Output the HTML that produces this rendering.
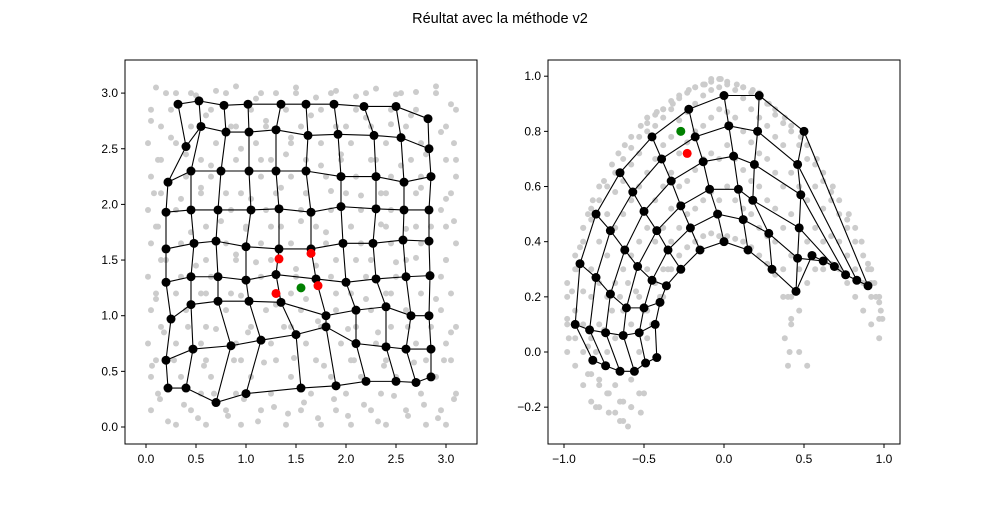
<!DOCTYPE html>
<html><head><meta charset="utf-8"><style>
body{margin:0;background:#fff;}
svg text{font-family:"Liberation Sans",sans-serif;}
</style></head><body>
<svg id="fig" width="1000" height="500" xmlns="http://www.w3.org/2000/svg">
<rect width="1000" height="500" fill="#fff"/>
<text x="500" y="23" text-anchor="middle" font-size="14.5">Réultat avec la méthode v2</text>
<g id="left"></g>
<g id="right"></g>
</svg>
<script>
// ---- left chart data ----
const leftXTicks=[0,0.5,1,1.5,2,2.5,3];
const leftXTickLabels=["0.0","0.5","1.0","1.5","2.0","2.5","3.0"];
const leftYTicks=[0,0.5,1,1.5,2,2.5,3];
const leftYTickLabels=["0.0","0.5","1.0","1.5","2.0","2.5","3.0"];
const leftGrayX=[0.1,0.3,0.5,0.7,0.9,1.1,1.3,1.5,1.7,1.9,2.1,2.3,2.5,2.7,2.9,3.05,0.05,0.25,0.6,0.85,1.2,1.45,1.65,2.0,2.2,2.45,2.65,2.95,0.15,0.4,0.65,0.95,1.15,1.4,1.75,1.95,2.25,2.55,2.8,3.1,0.08,0.35,0.55,0.8,1.05,1.35,1.6,1.85,2.15,2.4,2.75,3.0,0.12,0.45,0.75,1.0,1.25,1.55,1.8,2.05,2.35,2.6,2.85,3.08,0.2,0.5,0.9,1.1,1.5,1.7,2.1,2.5,2.7,3.0,0.1,0.3,0.6,0.95,1.3,1.6,1.9,2.2,2.45,2.9,0.18,0.42,0.7,1.02,1.38,1.72,2.02,2.32,2.62,3.05,0.06,0.28,0.58,0.88,1.18,1.48,1.78,2.08,2.38,2.68,2.98,0.14,0.38,0.68,0.98,1.28,1.58,1.88,2.18,2.48,2.78,3.08,0.22,0.52,0.82,1.12,1.42,1.72,2.02,2.32,2.62,2.92];
const leftGrayY=[3.05,3.0,2.98,3.02,3.06,2.95,3.0,3.05,2.96,3.02,2.97,3.04,2.99,3.01,3.06,2.9,2.75,2.6,2.8,2.7,2.75,2.6,2.8,2.7,2.78,2.72,2.8,2.65,2.4,2.45,2.35,2.5,2.4,2.45,2.35,2.45,2.4,2.35,2.45,2.4,2.1,2.05,2.15,2.1,2.05,2.15,2.1,2.12,2.08,2.1,2.15,2.05,1.8,1.75,1.85,1.78,1.8,1.85,1.75,1.8,1.82,1.78,1.8,1.85,1.5,1.45,1.55,1.48,1.42,1.45,1.5,1.48,1.52,1.5,1.15,1.2,1.2,1.18,1.1,1.15,1.2,1.15,1.2,1.15,0.85,0.9,0.88,0.85,0.9,0.95,0.88,0.85,0.9,0.85,0.55,0.6,0.55,0.6,0.58,0.62,0.55,0.6,0.55,0.58,0.6,0.25,0.2,0.3,0.25,0.18,0.22,0.25,0.2,0.28,0.2,0.25,0.05,0.08,0.1,0.05,0.12,0.08,0.1,0.05,0.1,0.08];
const leftGrayRowY=[0.02,0.15,0.3,0.45,0.6,0.75,0.9,1.05,1.2,1.35,1.5,1.65,1.8,1.95,2.1,2.25,2.4,2.55,2.7,2.85,3.0];
const leftGrayRowX=[
[0.3,0.6,0.95,1.4,1.75,2.05,2.4,2.8,3.0],
[0.05,0.45,0.8,1.15,1.55,1.9,2.25,2.6,2.95],
[0.12,0.55,0.9,1.25,1.65,2.0,2.35,2.75,3.1],
[0.05,0.35,0.65,1.05,1.45,1.85,2.15,2.5,2.9],
[0.1,0.6,0.95,1.3,1.7,2.05,2.4,2.8,3.05],
[0.02,0.3,0.55,0.9,1.25,1.6,1.95,2.3,2.7,3.0],
[0.15,0.6,1.05,1.45,1.75,2.1,2.45,2.85,3.1],
[0.05,0.4,0.8,1.2,1.55,1.9,2.25,2.6,2.95],
[0.1,0.55,0.85,1.45,2.05,2.4,2.75,3.05],
[0.02,0.35,0.65,1.15,1.5,1.85,2.2,2.5,2.95],
[0.15,0.6,0.9,1.25,1.9,2.25,2.6,3.0],
[0.05,0.35,0.8,1.15,1.45,1.8,2.15,2.45,2.75,3.1],
[0.1,0.6,1.0,1.35,1.7,2.05,2.4,2.7,3.0],
[0.02,0.3,0.85,1.2,1.55,1.85,2.15,2.45,2.95],
[0.15,0.55,0.95,1.3,1.6,2.0,2.35,2.7,3.05],
[0.05,0.4,0.65,1.15,1.45,1.8,2.1,2.45,2.75,3.1],
[0.12,0.55,0.9,1.25,1.6,1.95,2.3,2.65,3.0],
[0.02,0.3,0.7,1.1,1.45,1.75,2.05,2.4,2.75,3.08],
[0.15,0.45,0.9,1.2,1.55,1.9,2.25,2.6,3.0],
[0.05,0.25,0.65,1.05,1.4,1.75,2.1,2.45,2.7,3.1],
[0.2,0.45,0.8,1.15,1.5,1.85,2.2,2.55,2.9]];
const leftNodeX=[
[0.32,0.53,0.78,1.02,1.35,1.6,1.88,2.18,2.5,2.82],
[0.4,0.55,0.8,1.03,1.3,1.62,1.92,2.28,2.55,2.83],
[0.22,0.45,0.75,1.03,1.3,1.6,1.95,2.3,2.58,2.85],
[0.2,0.45,0.72,1.05,1.33,1.65,1.95,2.3,2.58,2.83],
[0.2,0.48,0.7,1.0,1.33,1.65,1.97,2.27,2.57,2.83],
[0.2,0.45,0.72,1.0,1.3,1.7,2.0,2.3,2.6,2.84],
[0.25,0.45,0.72,1.03,1.35,1.8,2.1,2.4,2.65,2.83],
[0.2,0.47,0.85,1.15,1.5,1.8,2.1,2.4,2.6,2.85],
[0.22,0.4,0.7,1.0,1.55,1.9,2.2,2.5,2.7,2.85]];
const leftNodeY=[
[2.9,2.93,2.89,2.9,2.9,2.9,2.9,2.88,2.88,2.77],
[2.52,2.7,2.65,2.65,2.67,2.62,2.63,2.62,2.6,2.5],
[2.2,2.3,2.3,2.3,2.3,2.3,2.25,2.25,2.2,2.25],
[1.93,1.95,1.95,1.95,1.96,1.93,1.98,1.96,1.95,1.95],
[1.6,1.65,1.67,1.62,1.6,1.6,1.65,1.65,1.68,1.67],
[1.3,1.35,1.35,1.32,1.37,1.33,1.3,1.33,1.35,1.36],
[0.97,1.1,1.13,1.13,1.12,1.0,1.05,1.08,1.0,1.0],
[0.6,0.7,0.73,0.78,0.83,0.9,0.75,0.72,0.7,0.7],
[0.35,0.35,0.22,0.3,0.35,0.37,0.41,0.41,0.4,0.45]];
const leftRedX=[1.33,1.65,1.3,1.72];
const leftRedY=[1.51,1.56,1.2,1.27];
const leftGreenX=[1.55];
const leftGreenY=[1.25];
// ---- right chart data ----
const rightXTicks=[-1,-0.5,0,0.5,1];
const rightXTickLabels=["−1.0","−0.5","0.0","0.5","1.0"];
const rightYTicks=[-0.2,0,0.2,0.4,0.6,0.8,1.0];
const rightYTickLabels=["−0.2","0.0","0.2","0.4","0.6","0.8","1.0"];
const rightGrayX=[-0.98,-0.95,-0.92,-0.97,-0.9,-0.88,-0.85,-0.82,-0.78,-0.75,-0.7,-0.66,-0.62,-0.58,-0.52,-0.48,-0.42,-0.38,-0.32,-0.28,-0.22,-0.18,-0.12,-0.08,-0.02,0.02,0.08,0.12,0.18,0.22,0.28,0.32,0.38,0.42,0.48,0.52,0.58,0.62,0.68,0.72,0.78,0.82,0.86,0.9,0.94,0.97,0.99,-0.85,-0.8,-0.75,-0.7,-0.65,-0.6,-0.55,-0.5,-0.45,-0.4,-0.35,-0.85,-0.78,-0.72,-0.65,-0.58,-0.5,-0.8,-0.72,-0.65,-0.6,-0.52,0.4,0.42,0.38,0.41,0.4,0.9,0.95,0.98,0.92];
const rightGrayY=[0.12,0.22,0.3,0.05,0.38,0.45,0.5,0.55,0.6,0.62,0.68,0.72,0.75,0.78,0.82,0.85,0.87,0.88,0.9,0.93,0.95,0.96,0.97,0.98,0.99,0.98,0.97,0.96,0.95,0.94,0.9,0.88,0.85,0.82,0.78,0.75,0.7,0.65,0.6,0.55,0.5,0.45,0.4,0.32,0.25,0.18,0.12,0.02,0.0,0.08,0.15,0.2,0.25,0.22,0.15,0.1,0.2,0.3,-0.08,-0.12,-0.15,-0.18,-0.2,-0.15,-0.2,-0.22,-0.25,-0.27,-0.22,0.2,0.12,0.05,0.0,-0.05,0.3,0.2,0.15,0.25];
const rightGrayColX=[-0.98,-0.93,-0.88,-0.83,-0.78,-0.73,-0.68,-0.63,-0.58,-0.53,-0.48,-0.43,-0.38,-0.33,-0.28,-0.23,-0.18,-0.13,-0.08,-0.03,0.02,0.07,0.12,0.17,0.22,0.27,0.32,0.37,0.42,0.47,0.52,0.57,0.62,0.67,0.72,0.77,0.82,0.87,0.92,0.97];
const rightGrayColY=[
[0.0,0.1,0.2,0.25],
[-0.05,0.05,0.15,0.3,0.35],
[-0.12,0.0,0.1,0.22,0.4,0.45],
[-0.18,-0.08,0.05,0.2,0.3,0.48,0.52],
[-0.2,-0.1,0.1,0.25,0.4,0.55],
[-0.15,0.0,0.2,0.35,0.5,0.6],
[-0.22,-0.12,0.05,0.25,0.45,0.58,0.65],
[-0.25,-0.18,0.15,0.3,0.5,0.62,0.7],
[-0.2,-0.1,0.1,0.35,0.55,0.68,0.74],
[-0.15,0.0,0.2,0.4,0.6,0.72,0.78],
[0.05,0.15,0.3,0.45,0.65,0.8,0.83],
[0.1,0.25,0.4,0.55,0.7,0.82,0.86],
[0.2,0.3,0.45,0.6,0.75,0.85,0.88],
[0.3,0.4,0.52,0.65,0.78,0.88,0.91],
[0.35,0.45,0.6,0.72,0.84,0.92],
[0.38,0.5,0.62,0.76,0.87,0.94],
[0.4,0.52,0.66,0.8,0.9,0.96],
[0.42,0.55,0.7,0.82,0.93,0.97],
[0.43,0.58,0.72,0.85,0.95,0.99],
[0.42,0.55,0.7,0.88,0.96,0.99],
[0.42,0.6,0.75,0.87,0.97],
[0.41,0.55,0.7,0.85,0.95],
[0.4,0.52,0.66,0.8,0.92,0.96],
[0.38,0.5,0.62,0.76,0.88,0.94],
[0.35,0.45,0.6,0.72,0.85,0.92],
[0.32,0.42,0.55,0.7,0.82,0.9],
[0.28,0.4,0.52,0.65,0.78,0.86],
[0.2,0.3,0.45,0.6,0.75,0.83],
[0.1,0.2,0.35,0.5,0.65,0.8],
[0.0,0.15,0.3,0.45,0.6,0.75],
[-0.05,0.25,0.4,0.55,0.7],
[0.3,0.45,0.6,0.68],
[0.3,0.4,0.52,0.62],
[0.32,0.42,0.55,0.58],
[0.3,0.4,0.5],
[0.25,0.35,0.45,0.48],
[0.2,0.3,0.4],
[0.15,0.25,0.35],
[0.1,0.2,0.3],
[0.05,0.12,0.2]];
const rightNodeX=[
[-0.82,-0.93,-0.9,-0.8,-0.65,-0.45,-0.22,0.0,0.22,0.5,0.9],
[-0.74,-0.84,-0.8,-0.71,-0.57,-0.39,-0.18,0.03,0.21,0.46,0.83],
[-0.65,-0.74,-0.71,-0.62,-0.5,-0.33,-0.13,0.06,0.19,0.48,0.76],
[-0.56,-0.63,-0.61,-0.54,-0.42,-0.27,-0.09,0.09,0.18,0.47,0.69],
[-0.49,-0.53,-0.5,-0.45,-0.35,-0.21,-0.04,0.12,0.28,0.46,0.62],
[-0.42,-0.43,-0.4,-0.36,-0.27,-0.15,0.0,0.15,0.3,0.45,0.55]];
const rightNodeY=[
[-0.03,0.1,0.32,0.5,0.65,0.78,0.88,0.93,0.93,0.8,0.24],
[-0.05,0.08,0.27,0.44,0.58,0.7,0.78,0.82,0.8,0.68,0.26],
[-0.07,0.07,0.21,0.37,0.51,0.62,0.69,0.71,0.68,0.57,0.28],
[-0.07,0.06,0.16,0.31,0.44,0.53,0.59,0.59,0.55,0.45,0.31],
[-0.04,0.07,0.16,0.26,0.37,0.45,0.5,0.48,0.43,0.34,0.33],
[-0.02,0.1,0.18,0.24,0.3,0.37,0.4,0.37,0.3,0.22,0.35]];
const rightRedX=[-0.23];
const rightRedY=[0.72];
const rightGreenX=[-0.27];
const rightGreenY=[0.8];

const NS="http://www.w3.org/2000/svg";
function mk(tag,attrs,parent){const e=document.createElementNS(NS,tag);for(const k in attrs)e.setAttribute(k,attrs[k]);parent.appendChild(e);return e;}
function gray(g,x,y){
  const c=mk('circle',{cx:x,cy:y,r:3,fill:'#cccccc'},g);
  
  
}
function drawChart(g,box,sx,sy,xt,xl,yt,yl,gx,gy,nx,ny,rx,ry,grx,gry){
  for(let i=0;i<gx.length;i++) gray(g,sx(gx[i]),sy(gy[i]));
  return function(){
  for(let r=0;r<nx.length;r++){
    const pts=nx[r].map((v,j)=>sx(v)+','+sy(ny[r][j])).join(' ');
    const p=mk('polyline',{points:pts,fill:'none',stroke:'#000','stroke-width':1.1},g);
    
    
  }
  for(let c=0;c<nx[0].length;c++){
    const pts=nx.map((row,r)=>sx(row[c])+','+sy(ny[r][c])).join(' ');
    const p=mk('polyline',{points:pts,fill:'none',stroke:'#000','stroke-width':1.1},g);
    
    
  }
  for(let r=0;r<nx.length;r++)for(let c=0;c<nx[r].length;c++){
    const n=mk('circle',{cx:sx(nx[r][c]),cy:sy(ny[r][c]),r:4.5,fill:'#000'},g);
    
    
  }
  for(let i=0;i<rx.length;i++){
    const n=mk('circle',{cx:sx(rx[i]),cy:sy(ry[i]),r:4.5,fill:'#ff0000'},g);
    
    
  }
  for(let i=0;i<grx.length;i++){
    const n=mk('circle',{cx:sx(grx[i]),cy:sy(gry[i]),r:4.5,fill:'#008000'},g);
    
    
  }
  const fr=mk('rect',{x:box.x0,y:box.y0,width:box.x1-box.x0,height:box.y1-box.y0,fill:'none',stroke:'#000','stroke-width':1},g);
  
  
  xt.forEach((v,i)=>{
    const x=sx(v);
    const t=mk('line',{x1:x,x2:x,y1:box.y1,y2:box.y1+4,stroke:'#000'},g);
    
    
    const l=mk('text',{x:x,y:box.y1+19,'text-anchor':'middle','font-size':12},g);
    l.textContent=xl[i];
    
    
  });
  yt.forEach((v,i)=>{
    const y=sy(v);
    const t=mk('line',{x1:box.x0-4,x2:box.x0,y1:y,y2:y,stroke:'#000'},g);
    
    
    const l=mk('text',{x:box.x0-7,y:y+4,'text-anchor':'end','font-size':12},g);
    l.textContent=yl[i];
    
    
  });
  };
}
const lg=document.getElementById('left'), rg=document.getElementById('right');
const lsx=x=>146+100*x, lsy=y=>427-111.3*y;
const rsx=x=>724+160*x, rsy=y=>352-275.8*y;
const finishL=drawChart(lg,{x0:125,x1:477,y0:60,y1:444},lsx,lsy,
  leftXTicks,leftXTickLabels,leftYTicks,leftYTickLabels,leftGrayX,leftGrayY,leftNodeX,leftNodeY,leftRedX,leftRedY,leftGreenX,leftGreenY);
leftGrayRowY.forEach((y,i)=>leftGrayRowX[i].forEach(x=>gray(lg,lsx(x),lsy(y))));
finishL();
const finishR=drawChart(rg,{x0:548,x1:900,y0:60,y1:444},rsx,rsy,
  rightXTicks,rightXTickLabels,rightYTicks,rightYTickLabels,rightGrayX,rightGrayY,rightNodeX,rightNodeY,rightRedX,rightRedY,rightGreenX,rightGreenY);
rightGrayColX.forEach((x,i)=>rightGrayColY[i].forEach(y=>gray(rg,rsx(x),rsy(y))));
finishR();
</script>
</body></html>
